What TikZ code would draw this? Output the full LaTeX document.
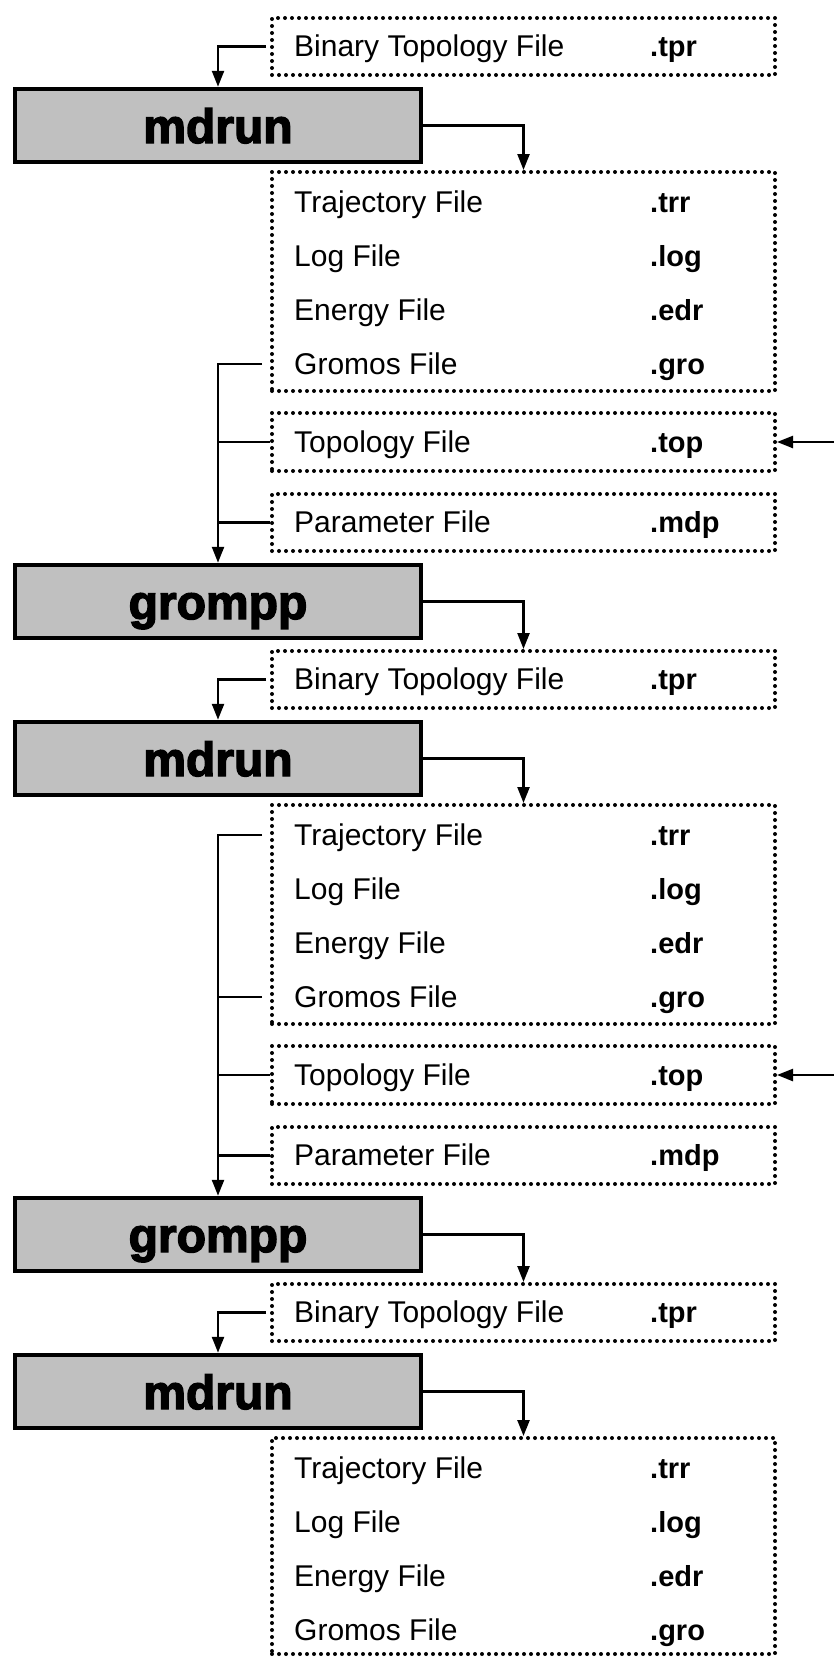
\documentclass[tikz,border=0pt]{standalone}
\usepackage{fontspec}
\setmainfont{Liberation Sans}
\newfontfamily\progfont{Liberation Sans Bold}[FakeBold=3]
\usetikzlibrary{arrows.meta}
\definecolor{progfill}{HTML}{C0C0C0}

\begin{document}
\begin{tikzpicture}[x=1pt,y=-1pt,
  filebox/.style={draw, line width=4pt, dash pattern=on 0pt off 7pt, line cap=round,
    minimum width=503pt, inner sep=0pt},
  progbox/.style={draw, line width=4.5pt, fill=progfill, minimum width=406pt,
    minimum height=73pt, inner sep=0pt, font=\progfont\fontsize{48}{52}\selectfont,
    text height=35pt, text depth=0pt},
  fname/.style={anchor=west, inner sep=0pt, text height=21pt, text depth=0pt,
    font=\fontsize{30}{34}\selectfont},
  fext/.style={anchor=west, inner sep=0pt, text height=20.5pt, text depth=0pt,
    font=\bfseries\fontsize{29}{33}\selectfont},
  link/.style={line width=2.4pt},
  flow/.style={link, -{Triangle[length=16pt,width=12pt]}}
]
\useasboundingbox (0,0) rectangle (834,1657);

% ---------------- first cycle ----------------
\node[filebox, minimum height=57pt] (tpr1) at (523.5,46.5) {};
\node[fname] (tpr1n) at (294,46) {Binary Topology File};
\node[fext]  (tpr1e) at (650,46) {.tpr};

\node[progbox] (md1) at (218,125.5) {mdrun};

\node[filebox, minimum height=219pt] (out1) at (523.5,281.5) {};
\node[fname] (trr1n) at (294,202) {Trajectory File};
\node[fext]  (trr1e) at (650,202) {.trr};
\node[fname] (log1n) at (294,256) {Log File};
\node[fext]  (log1e) at (650,256) {.log};
\node[fname] (edr1n) at (294,310) {Energy File};
\node[fext]  (edr1e) at (650,310) {.edr};
\node[fname] (gro1n) at (294,364) {Gromos File};
\node[fext]  (gro1e) at (650,364) {.gro};

\node[filebox, minimum height=58pt] (top1) at (523.5,442) {};
\node[fname] (top1n) at (294,442) {Topology File};
\node[fext]  (top1e) at (650,442) {.top};

\node[filebox, minimum height=57pt] (par1) at (523.5,522.5) {};
\node[fname] (par1n) at (294,522) {Parameter File};
\node[fext]  (par1e) at (650,522) {.mdp};

\node[progbox] (gp1) at (218,601.5) {grompp};

% ---------------- second cycle ----------------
\node[filebox, minimum height=57pt] (tpr2) at (523.5,679.5) {};
\node[fname] (tpr2n) at (294,679) {Binary Topology File};
\node[fext]  (tpr2e) at (650,679) {.tpr};

\node[progbox] (md2) at (218,758.5) {mdrun};

\node[filebox, minimum height=219pt] (out2) at (523.5,914.5) {};
\node[fname] (trr2n) at (294,835) {Trajectory File};
\node[fext]  (trr2e) at (650,835) {.trr};
\node[fname] (log2n) at (294,889) {Log File};
\node[fext]  (log2e) at (650,889) {.log};
\node[fname] (edr2n) at (294,943) {Energy File};
\node[fext]  (edr2e) at (650,943) {.edr};
\node[fname] (gro2n) at (294,997) {Gromos File};
\node[fext]  (gro2e) at (650,997) {.gro};

\node[filebox, minimum height=58pt] (top2) at (523.5,1075) {};
\node[fname] (top2n) at (294,1075) {Topology File};
\node[fext]  (top2e) at (650,1075) {.top};

\node[filebox, minimum height=57pt] (par2) at (523.5,1155.5) {};
\node[fname] (par2n) at (294,1155) {Parameter File};
\node[fext]  (par2e) at (650,1155) {.mdp};

\node[progbox] (gp2) at (218,1234.5) {grompp};

% ---------------- third cycle ----------------
\node[filebox, minimum height=57pt] (tpr3) at (523.5,1312.5) {};
\node[fname] (tpr3n) at (294,1312) {Binary Topology File};
\node[fext]  (tpr3e) at (650,1312) {.tpr};

\node[progbox] (md3) at (218,1391.5) {mdrun};

\node[filebox, minimum height=216pt] (out3) at (523.5,1546) {};
\node[fname] (trr3n) at (294,1468) {Trajectory File};
\node[fext]  (trr3e) at (650,1468) {.trr};
\node[fname] (log3n) at (294,1522) {Log File};
\node[fext]  (log3e) at (650,1522) {.log};
\node[fname] (edr3n) at (294,1576) {Energy File};
\node[fext]  (edr3e) at (650,1576) {.edr};
\node[fname] (gro3n) at (294,1630) {Gromos File};
\node[fext]  (gro3e) at (650,1630) {.gro};

% external topology inputs
\coordinate (src1) at (834,442);
\coordinate (src2) at (834,1075);

% ---------------- connectors ----------------
\draw[flow] ([xshift=-4pt]tpr1.west) -| (md1.north);
\draw[flow] (md1.east) -| (out1.north);
\draw[flow] ([xshift=-8pt]out1.west |- gro1n.west) -| (gp1.north);
\draw[link] (top1.west) -- (top1.west -| gp1.north);
\draw[link] (par1.west) -- (par1.west -| gp1.north);
\draw[flow] (src1) -- (top1.east);
\draw[flow] (gp1.east) -| (tpr2.north);

\draw[flow] ([xshift=-4pt]tpr2.west) -| (md2.north);
\draw[flow] (md2.east) -| (out2.north);
\draw[flow] ([xshift=-8pt]out2.west |- trr2n.west) -| (gp2.north);
\draw[link] ([xshift=-8pt]out2.west |- gro2n.west) -- (gro2n.west -| gp2.north);
\draw[link] (top2.west) -- (top2.west -| gp2.north);
\draw[link] (par2.west) -- (par2.west -| gp2.north);
\draw[flow] (src2) -- (top2.east);
\draw[flow] (gp2.east) -| (tpr3.north);

\draw[flow] ([xshift=-4pt]tpr3.west) -| (md3.north);
\draw[flow] (md3.east) -| (out3.north);
\end{tikzpicture}
\end{document}
